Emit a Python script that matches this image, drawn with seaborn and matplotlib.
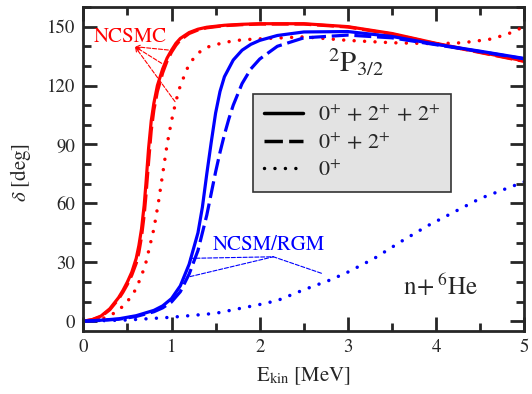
import numpy as np
import pandas as pd
import seaborn as sns
import matplotlib.pyplot as plt
from matplotlib.lines import Line2D
from matplotlib.ticker import MultipleLocator

# NCSMC curves (red)
e_ncsmc_full = [0, 0.1, 0.2, 0.3, 0.4, 0.45, 0.5, 0.55, 0.6, 0.63, 0.66, 0.69, 0.71, 0.74, 0.77, 0.8,
                0.84, 0.9, 0.95, 1.0, 1.05, 1.1, 1.2, 1.3, 1.4, 1.6, 1.8, 2.0, 2.5, 3.0, 3.5, 4.0, 4.5, 5.0]
d_ncsmc_full = [0, 0.8, 2.6, 6.3, 12, 15.7, 20, 25, 32, 38.5, 47, 59, 70, 88, 102, 111,
                120, 128.5, 134, 138, 141.5, 144, 147, 148.7, 149.7, 150.7, 151.2, 151.5, 151.5, 150, 146.5, 141.5, 137, 132.5]
d_ncsmc_02 = [0, 0.7, 2.3, 5.8, 11.3, 14.8, 18.8, 23.5, 29.5, 35, 43, 54, 64, 81, 97, 107.5,
              117, 126.5, 132.5, 137, 140.5, 143.2, 146.5, 148.3, 149.4, 150.5, 151, 151.3, 151.3, 149.8, 146.2, 141.3, 136.8, 132.3]
e_ncsmc_0 = [0, 0.1, 0.2, 0.3, 0.4, 0.5, 0.6, 0.7, 0.8, 0.85, 0.9, 0.95, 1.0, 1.05, 1.1, 1.2, 1.3, 1.4,
             1.6, 1.8, 2.0, 2.5, 3.0, 3.5, 4.0, 4.3, 4.6, 4.8, 5.0]
d_ncsmc_0 = [0, 0.3, 1, 2.8, 5.5, 10, 16.5, 28, 47, 60, 75, 90, 102, 112, 120, 131, 136.5, 139.5,
             142, 143.3, 143.8, 144.8, 143, 141.8, 141.3, 141.8, 143.5, 146, 150]

# NCSM/RGM curves (blue)
e_rgm_full = [0, 0.2, 0.4, 0.6, 0.8, 0.9, 1.0, 1.1, 1.2, 1.3, 1.35, 1.4, 1.45, 1.5, 1.55, 1.6,
              1.7, 1.8, 1.9, 2.0, 2.2, 2.5, 3.0, 3.5, 4.0, 4.5, 5.0]
d_rgm_full = [0, 0.5, 1.2, 2.8, 5.5, 7.8, 11.5, 18, 29, 45, 58, 75, 91, 106, 117, 124.5,
              133, 138, 141, 143, 145.5, 147.3, 147.5, 145, 141, 137.5, 133.8]
e_rgm_02 = [0, 0.2, 0.4, 0.6, 0.8, 0.9, 1.0, 1.1, 1.2, 1.3, 1.4, 1.45, 1.5, 1.55, 1.6, 1.65,
            1.7, 1.8, 1.9, 2.0, 2.2, 2.5, 3.0, 3.5, 4.0, 4.5, 5.0]
d_rgm_02 = [0, 0.4, 1.0, 2.4, 4.8, 6.8, 9.8, 15, 24, 36, 54, 65, 76, 86, 95, 103,
            110, 121, 128.5, 133.5, 140, 144.3, 145.7, 144.3, 140.8, 137.3, 133.6]
e_rgm_0 = [0, 0.5, 1.0, 1.5, 2.0, 2.2, 2.5, 2.8, 3.0, 3.3, 3.6, 3.9, 4.2, 4.5, 4.8, 5.0]
d_rgm_0 = [0, 0.6, 2.0, 4.0, 8.5, 10.5, 16, 21, 25, 32, 40.5, 48.5, 55.5, 62.5, 67.6, 71]

labels = [r'0${}^{+}$ + 2${}^{+}$ + 2${}^{+}$', r'0${}^{+}$ + 2${}^{+}$', r'0${}^{+}$']

# long table for seaborn
rows = []
for meth, chan, e, d in [("NCSMC", "full", e_ncsmc_full, d_ncsmc_full),
                         ("NCSMC", "02", e_ncsmc_full, d_ncsmc_02),
                         ("NCSMC", "0", e_ncsmc_0, d_ncsmc_0),
                         ("NCSM/RGM", "full", e_rgm_full, d_rgm_full),
                         ("NCSM/RGM", "02", e_rgm_02, d_rgm_02),
                         ("NCSM/RGM", "0", e_rgm_0, d_rgm_0)]:
    rows.append(pd.DataFrame({"E": e, "delta": d, "method": meth, "channel": chan}))
df = pd.concat(rows, ignore_index=True)

sns.set_style("ticks")
plt.rcParams['font.family'] = ['STIXGeneral', 'DejaVu Serif']
plt.rcParams['mathtext.fontset'] = 'stix'

fig = plt.figure(figsize=(5.32, 3.94), dpi=100)
ax = fig.add_axes([0.1566, 0.1599, 0.8289, 0.8223])

dash_map = {"full": "", "02": (5.3, 1.8), "0": (0.01, 3.0)}
sns.lineplot(data=df, x="E", y="delta", hue="method", style="channel",
             palette={"NCSMC": "#ff0000", "NCSM/RGM": "#0000ff"},
             dashes=dash_map, style_order=["full", "02", "0"],
             estimator=None, sort=False, lw=2.3, legend=False, ax=ax)
# round dots for the 0+ only curves
for ln in ax.lines:
    pat = ln._unscaled_dash_pattern[1]
    if pat and pat[0] < 0.1:
        ln.set_dash_capstyle('round')
        ln.set_linewidth(2.5)

ax.set_xlim(0, 5)
ax.set_ylim(-5, 160)
ax.xaxis.set_major_locator(MultipleLocator(1))
ax.xaxis.set_minor_locator(MultipleLocator(0.5))
ax.yaxis.set_major_locator(MultipleLocator(30))
ax.yaxis.set_minor_locator(MultipleLocator(10))
ax.tick_params(which='both', direction='in', top=True, right=True, width=2, labelsize=13.5, pad=6)
ax.tick_params(which='major', length=10)
ax.tick_params(which='minor', length=5.5)
for sp in ax.spines.values():
    sp.set_linewidth(2)

ax.set_xlabel(r'E$_{\mathrm{kin}}$ [MeV]', fontsize=15)
ax.set_ylabel(r'$\delta$ [deg]', fontsize=15)
ax.xaxis.set_label_coords(0.5, -0.105)
ax.yaxis.set_label_coords(-0.114, 0.488)

# labels on the plot
ax.text(0.53, 144.7, "NCSMC", color="#ff0000", fontsize=15, ha="center", va="center")
for xy in [(0.964, 138.1), (0.889, 131.3), (1.04, 111.8)]:
    ax.annotate("", xy=(0.586, 139.8), xytext=xy,
                arrowprops=dict(arrowstyle="->", color="#ff0000", lw=0.8, ls="--",
                                shrinkA=0, shrinkB=0, mutation_scale=7))
ax.text(2.10, 38.8, "NCSM/RGM", color="#0000ff", fontsize=15, ha="center", va="center")
for xy in [(1.21, 32.0), (1.21, 22.7), (2.70, 24.4)]:
    ax.annotate("", xy=(2.155, 32.8), xytext=xy,
                arrowprops=dict(arrowstyle="-", color="#0000ff", lw=0.8, ls="--",
                                shrinkA=0, shrinkB=0))
ax.text(2.77, 126.9, r'${}^{2}\mathrm{P}_{3/2}$', fontsize=21, ha="left", va="baseline")
ax.text(3.62, 13.3, r'$\mathrm{n}\!+{}^{6}\mathrm{He}$', fontsize=18, ha="left", va="baseline")

handles = [Line2D([], [], color="black", lw=2.5),
           Line2D([], [], color="black", lw=2.5, dashes=(5.3, 1.8)),
           Line2D([], [], color="black", lw=2.5, dashes=(0.01, 3.0), dash_capstyle='round')]
leg = ax.legend(handles, labels, loc="upper left", bbox_to_anchor=(0.385, 0.7315),
                borderaxespad=0, fontsize=16, frameon=True, fancybox=False,
                handlelength=1.75, handletextpad=0.65, labelspacing=0.3,
                borderpad=0.5, framealpha=1)
leg.get_frame().set_facecolor("#e3e3e3")
leg.get_frame().set_edgecolor("#333333")
leg.get_frame().set_linewidth(1.2)

fig.savefig("out.png", dpi=100)
